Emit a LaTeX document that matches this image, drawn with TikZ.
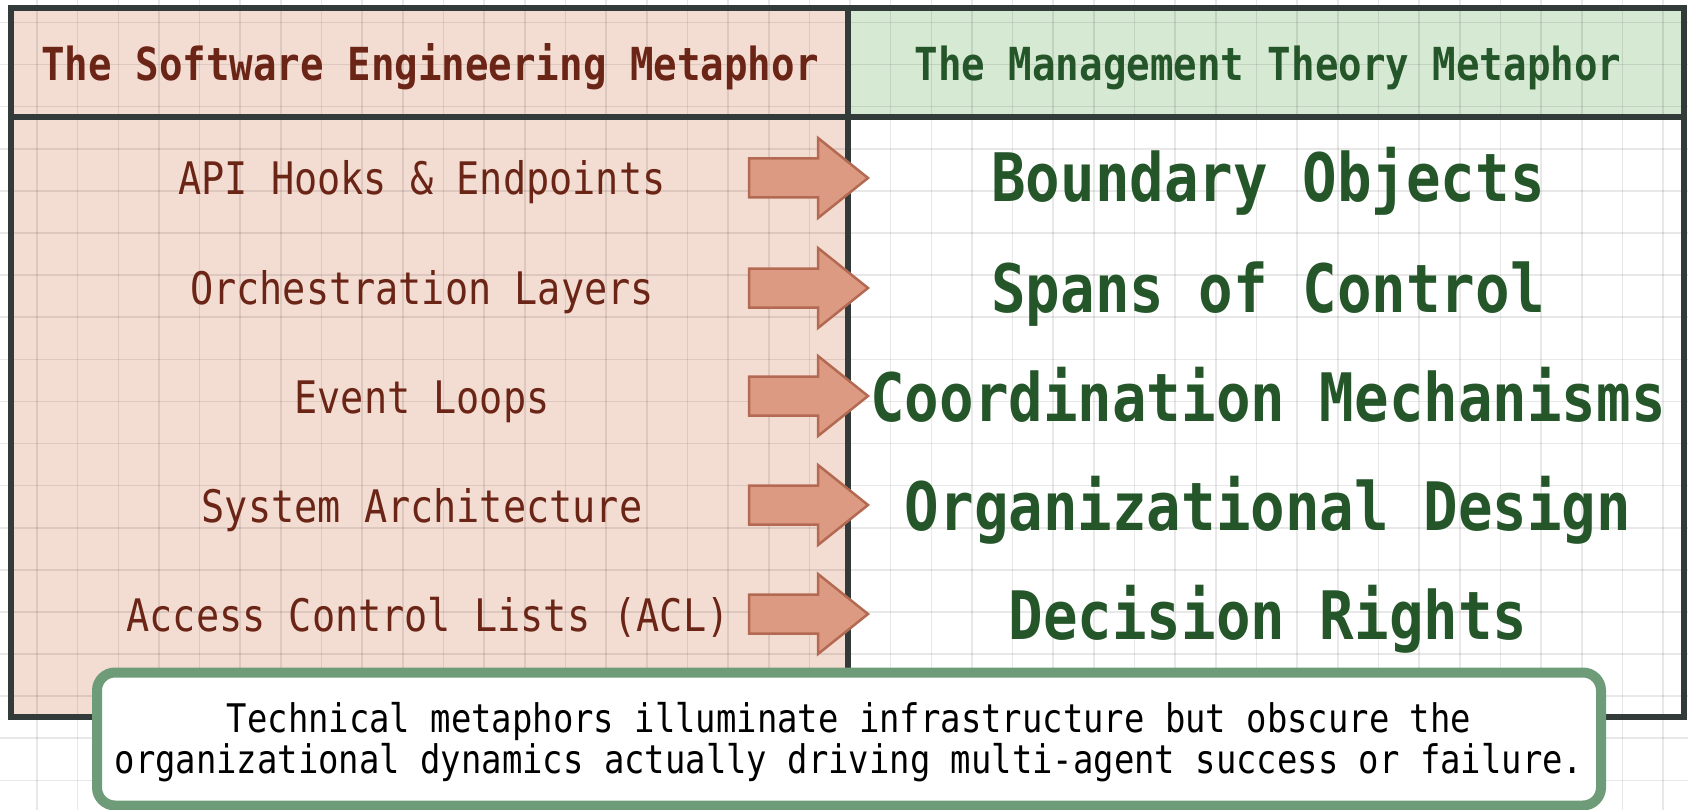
\documentclass[tikz,border=0pt]{standalone}
\usepackage{fontspec}
\newfontfamily\monof[FakeStretch=0.86]{DejaVu Sans Mono}
\definecolor{pinkfill}{HTML}{F3DCD2}
\definecolor{greenfill}{HTML}{D5E9D3}
\definecolor{framecol}{HTML}{333A3A}
\definecolor{browntext}{HTML}{6B2516}
\definecolor{greentext}{HTML}{24562A}
\definecolor{arrowfill}{HTML}{DC9A82}
\definecolor{arrowdraw}{HTML}{B46A52}
\definecolor{noteborder}{HTML}{6F9C78}
\tikzset{
  gridline/.style={black,opacity=0.09,line width=1.6pt},
  frameline/.style={framecol,line width=6pt},
  headleft/.style={font=\monof\bfseries\fontsize{45.5}{50}\selectfont,text=browntext,anchor=base,inner sep=0pt},
  headright/.style={font=\monof\bfseries\fontsize{45.5}{50}\selectfont,text=greentext,anchor=base,inner sep=0pt},
  itemleft/.style={font=\monof\fontsize{44.8}{50}\selectfont,text=browntext,anchor=base,inner sep=0pt},
  itemright/.style={font=\monof\bfseries\fontsize{66.8}{70}\selectfont,text=greentext,anchor=base,inner sep=0pt},
  notetext/.style={font=\monof\fontsize{39.4}{44}\selectfont,text=black,anchor=base,inner sep=0pt},
  notebox/.style={draw=noteborder,fill=white,line width=10pt,rounded corners=18pt,minimum width=1504pt,minimum height=133pt,inner sep=0pt},
  arrowsty/.style={fill=arrowfill,draw=arrowdraw,line width=2.5pt,line join=miter},
  bigarrow/.pic={\draw[arrowsty] (-59.5,-19.5) -- (9.5,-19.5) -- (9.5,-40) -- (59.5,0) -- (9.5,40) -- (9.5,19.5) -- (-59.5,19.5) -- cycle;}
}
\begin{document}
\begin{tikzpicture}[x=1pt,y=-1pt]
\useasboundingbox (0,0) rectangle (1688,810);
\fill[white] (0,0) rectangle (1688,810);
% cell fills
\fill[pinkfill] (11,8) rectangle (848,717);
\fill[greenfill] (848,8) rectangle (1684,117);
% grid
\foreach \i in {0,...,41} {\draw[gridline] ({37+40.65*\i},0) -- ++(0,810);}
\foreach \j in {0,...,19} {\draw[gridline] (0,{22.5+42.1*\j}) -- ++(1688,0);}
% frame
\draw[frameline] (11,8) rectangle (1684,717);
\draw[frameline] (11,117) -- (1684,117);
\draw[frameline] (848,8) -- (848,717);
% headers
\node[headleft] (hl) at (430,81) {The Software Engineering Metaphor};
\node[headright] (hr) at (1268,81) {The Management Theory Metaphor};
% rows
\node[itemleft] (l1) at (422,194.5) {API Hooks \& Endpoints};
\node[itemleft] (l2) at (422,304.5) {Orchestration Layers};
\node[itemleft] (l3) at (422,413.5) {Event Loops};
\node[itemleft] (l4) at (422,522.5) {System Architecture};
\node[itemleft] (l5) at (428,631.5) {Access Control Lists (ACL)};
\node[itemright] (r1) at (1268,202) {Boundary Objects};
\node[itemright] (r2) at (1268,312) {Spans of Control};
\node[itemright] (r3) at (1268,421) {Coordination Mechanisms};
\node[itemright] (r4) at (1268,530) {Organizational Design};
\node[itemright] (r5) at (1268,639) {Decision Rights};
% arrows
\pic (a1) at (808.5,178) {bigarrow};
\pic (a2) at (808.5,288) {bigarrow};
\pic (a3) at (808.5,396) {bigarrow};
\pic (a4) at (808.5,505) {bigarrow};
\pic (a5) at (808.5,614) {bigarrow};
% note
\node[notebox] (note) at (849,739) {};
\node[notetext] (n1) at (849,732) {Technical metaphors illuminate infrastructure but obscure the};
\node[notetext] (n2) at (849,773) {organizational dynamics actually driving multi-agent success or failure.};
\end{tikzpicture}
\end{document}
